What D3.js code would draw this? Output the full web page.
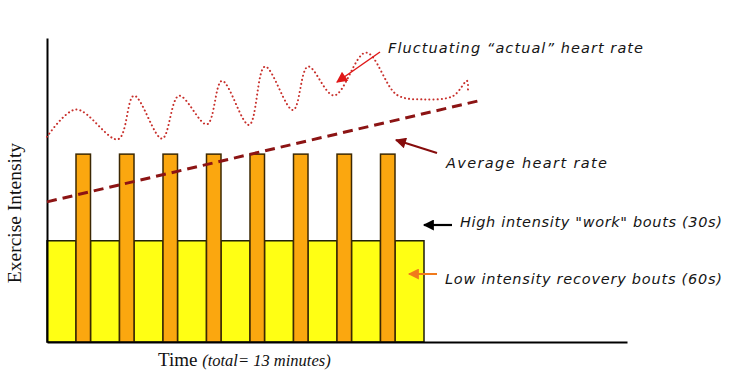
<!DOCTYPE html>
<html>
<head>
<meta charset="utf-8">
<script src="https://cdn.jsdelivr.net/npm/d3@7"></script>
<style>
body { margin:0; background:#fff; }
svg { display:block; }
</style>
</head>
<body>
<svg id="chart" width="736" height="373"></svg>
<script>
// bouts: recovery (60s) and work (30s), 13 minutes total
var boutType = ["rec","work","rec","work","rec","work","rec","work","rec","work","rec","work","rec","work","rec","work","rec"];
var boutSeconds = [60,30,60,30,60,30,60,30,60,30,60,30,60,30,60,30,60];
var boutLevel = [3.33,6.18,3.33,6.18,3.33,6.18,3.33,6.18,3.33,6.18,3.33,6.18,3.33,6.18,3.33,6.18,3.33];

// fluctuating "actual" heart rate (seconds, intensity)
var hrTime = [0,60,147,180,238,273,331,362,418,451,509,540,594,660,724,778,840,869,871];
var hrValue = [6.75,7.65,6.67,8.10,6.69,8.10,7.16,8.59,7.14,9.06,7.63,9.06,8.11,9.52,8.13,7.98,8.09,8.59,8.29];

// average heart rate trend
var avgTime = [0,900];
var avgValue = [4.61,7.96];

var svg = d3.select("#chart");

var x = d3.scaleLinear().domain([0,1200]).range([47,627]);
var y = d3.scaleLinear().domain([0,10]).range([342,38]);

var starts = [0].concat(Array.from(d3.cumsum(boutSeconds)));
var bouts = boutType.map(function(t,i){
	return {type:t, start:starts[i], end:starts[i]+boutSeconds[i], level:boutLevel[i]};
});

// recovery blocks first, work bars on top
svg.selectAll("rect.rec")
	.data(bouts.filter(function(d){return d.type=="rec";}))
	.enter().append("rect")
		.attr("class","rec")
		.attr("x",function(d){return x(d.start);})
		.attr("y",function(d){return y(d.level);})
		.attr("width",function(d){return x(d.end)-x(d.start);})
		.attr("height",function(d){return y(0)-y(d.level);})
		.attr("fill","#ffff14")
		.attr("stroke","#1e1e0a")
		.attr("stroke-width",1.5);

svg.selectAll("rect.work")
	.data(bouts.filter(function(d){return d.type=="work";}))
	.enter().append("rect")
		.attr("class","work")
		.attr("x",function(d){return x(d.start);})
		.attr("y",function(d){return y(d.level);})
		.attr("width",function(d){return x(d.end)-x(d.start);})
		.attr("height",function(d){return y(0)-y(d.level);})
		.attr("fill","#fba70f")
		.attr("stroke","#3c2803")
		.attr("stroke-width",1.5);

// axes (plain lines, no ticks)
svg.append("g")
	.attr("transform","translate(0,"+y(0)+")")
	.call(d3.axisBottom(x).ticks(0).tickSizeOuter(0))
	.select(".domain").attr("stroke","#000").attr("stroke-width",2.2);

svg.append("g")
	.attr("transform","translate("+x(0)+",0)")
	.call(d3.axisLeft(y).ticks(0).tickSizeOuter(0))
	.select(".domain").attr("stroke","#000").attr("stroke-width",2);

var avgLine = d3.line()
	.x(function(d){return x(d[0]);})
	.y(function(d){return y(d[1]);});

svg.append("path")
	.attr("d", avgLine(d3.zip(avgTime,avgValue)))
	.attr("fill","none")
	.attr("stroke","#8c1414")
	.attr("stroke-width",3)
	.attr("stroke-dasharray","10,6");

var hrLine = d3.line()
	.x(function(d){return x(d[0]);})
	.y(function(d){return y(d[1]);})
	.curve(d3.curveCatmullRom.alpha(0.5));

svg.append("path")
	.attr("d", hrLine(d3.zip(hrTime,hrValue)))
	.attr("fill","none")
	.attr("stroke","#c8302c")
	.attr("stroke-width",2)
	.attr("stroke-linecap","round")
	.attr("stroke-dasharray","0.1,4");

// annotations
var notes = [
	{text:"Fluctuating \u201cactual\u201d heart rate", tx:388, ty:53, len:255, x1:380, y1:52, x2:337, y2:82, color:"#e01818", w:1.5},
	{text:"Average heart rate", tx:446, ty:168, len:161, x1:437, y1:153, x2:396, y2:140, color:"#860c0c", w:2},
	{text:"High intensity \"work\" bouts (30s)", tx:460, ty:227, len:262, x1:452, y1:225, x2:424, y2:225, color:"#000", w:2.2},
	{text:"Low intensity recovery bouts (60s)", tx:445, ty:284, len:277, x1:437, y1:274, x2:409, y2:274, color:"#f07a1c", w:2}
];

var defs = svg.append("defs");
notes.forEach(function(n,i){
	defs.append("marker")
		.attr("id","head"+i)
		.attr("viewBox","0 0 10 10")
		.attr("refX",9).attr("refY",5)
		.attr("markerUnits","userSpaceOnUse")
		.attr("markerWidth",12).attr("markerHeight",11)
		.attr("orient","auto")
		.append("path")
			.attr("d","M0,0L10,5L0,10z")
			.attr("fill",n.color);
});

svg.selectAll("line.note")
	.data(notes)
	.enter().append("line")
		.attr("class","note")
		.attr("x1",function(d){return d.x1;})
		.attr("y1",function(d){return d.y1;})
		.attr("x2",function(d){return d.x2;})
		.attr("y2",function(d){return d.y2;})
		.attr("stroke",function(d){return d.color;})
		.attr("stroke-width",function(d){return d.w;})
		.attr("marker-end",function(d,i){return "url(#head"+i+")";});

svg.selectAll("text.note")
	.data(notes)
	.enter().append("text")
		.attr("class","note")
		.attr("x",function(d){return d.tx;})
		.attr("y",function(d){return d.ty;})
		.attr("textLength",function(d){return d.len;})
		.attr("lengthAdjust","spacing")
		.attr("font-family","'DejaVu Sans', sans-serif")
		.attr("font-style","italic")
		.attr("font-size","14.5px")
		.attr("fill","#151515")
		.text(function(d){return d.text;});

// axis titles
svg.append("text")
	.attr("transform","translate(21,213) rotate(-90)")
	.attr("text-anchor","middle")
	.attr("font-family","'Liberation Serif', 'Times New Roman', serif")
	.attr("font-size","19.5px")
	.attr("fill","#111")
	.text("Exercise Intensity");

var xt = svg.append("text")
	.attr("x",158)
	.attr("y",366)
	.attr("font-family","'Liberation Serif', 'Times New Roman', serif")
	.attr("fill","#111");
xt.append("tspan").attr("font-size","19px").text("Time ");
xt.append("tspan").attr("font-size","16.5px").attr("font-style","italic").text("(total= 13 minutes)");
</script>
</body>
</html>
